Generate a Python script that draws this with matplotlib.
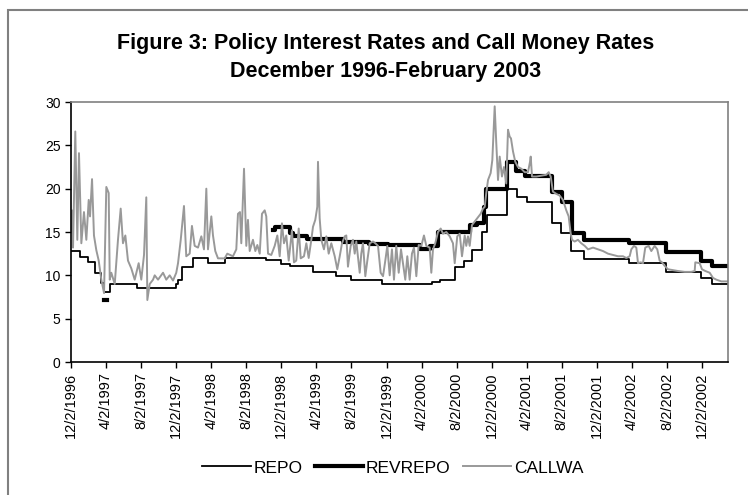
import numpy as np
import matplotlib
matplotlib.use("Agg")
import matplotlib.pyplot as plt
from matplotlib.patches import Rectangle

plt.rcParams['font.family'] = ['Liberation Sans', 'DejaVu Sans']

# x values are months since 2 Dec 1996
tick_months = [0, 4, 8, 12, 16, 20, 24, 28, 32, 36, 40, 44, 48, 52, 56, 60, 64, 68, 72]
tick_labels = ["12/2/1996", "4/2/1997", "8/2/1997", "12/2/1997", "4/2/1998", "8/2/1998",
               "12/2/1998", "4/2/1999", "8/2/1999", "12/2/1999", "4/2/2000", "8/2/2000",
               "12/2/2000", "4/2/2001", "8/2/2001", "12/2/2001", "4/2/2002", "8/2/2002",
               "12/2/2002"]

# REPO: step changes (month, rate)
repo_m = [0.0, 1.03, 1.94, 2.74, 3.42, 3.77, 4.45, 7.53, 11.98, 12.21, 12.66, 13.92,
          15.63, 17.57, 22.25, 23.96, 24.99, 27.61, 30.23, 31.95, 35.48, 41.19, 42.10,
          43.81, 44.84, 45.75, 46.89, 47.46, 49.74, 50.88, 52.03, 54.88, 55.90, 57.04,
          58.53, 63.66, 67.88, 71.88, 73.13, 74.96]
repo_v = [12.8, 12.1, 11.5, 10.3, 9.15, 8.1, 8.96, 8.5, 8.96, 9.46, 11.0, 11.96,
          11.46, 11.96, 11.77, 11.3, 11.08, 10.42, 9.92, 9.46, 9.0, 9.2, 9.46,
          11.0, 11.65, 12.9, 15.0, 17.0, 20.0, 19.0, 18.5, 16.0, 14.85, 12.85,
          11.9, 11.46, 10.35, 9.65, 8.96, 8.96]

# REVREPO: short early stretch, then continuous from late 1998
revrepo_m = [3.77, 4.10, 4.11, 23.05, 23.27, 24.19, 24.99, 25.33, 26.93, 31.03, 34.0,
             36.17, 39.82, 40.96, 41.87, 45.52, 46.32, 47.12, 47.35, 49.74, 50.77,
             51.80, 54.88, 56.02, 57.16, 58.53, 63.66, 67.88, 71.88, 73.13, 74.96]
revrepo_v = [7.2, 7.2, np.nan, 15.2, 15.6, 15.6, 14.85, 14.5, 14.2, 13.9, 13.65,
             13.45, 13.0, 13.4, 14.95, 15.8, 16.0, 17.9, 20.0, 23.1, 22.0,
             21.5, 19.6, 18.5, 14.9, 14.1, 13.7, 12.7, 11.7, 11.1, 11.1]

# CALLWA: weighted average call money rate
call_m = [0.0, 0.11, 0.23, 0.49, 0.72, 0.91, 1.18, 1.48, 1.75, 2.02, 2.17, 2.40, 2.62,
          2.89, 3.16, 3.46, 3.77, 4.03, 4.30, 4.42, 4.60, 4.99, 5.36, 5.67, 5.93, 6.20,
          6.50, 6.88, 7.27, 7.72, 8.02, 8.33, 8.59, 8.71, 8.98, 9.36, 9.55, 9.93, 10.50,
          10.87, 11.26, 11.64, 12.01, 12.21, 12.52, 12.89, 13.15, 13.54, 13.80, 14.11,
          14.49, 14.87, 15.17, 15.44, 15.63, 16.01, 16.20, 16.46, 16.77, 17.54, 17.83,
          18.48, 18.86, 19.05, 19.28, 19.43, 19.74, 20.00, 20.19, 20.39, 20.76, 21.03,
          21.26, 21.53, 21.79, 22.10, 22.28, 22.48, 22.85, 23.24, 23.54, 23.81, 24.07,
          24.30, 24.56, 24.84, 25.21, 25.44, 25.70, 25.98, 26.21, 26.58, 26.85, 27.12,
          27.42, 27.61, 27.87, 28.10, 28.18, 28.37, 28.56, 28.86, 29.13, 29.40, 29.70,
          30.09, 30.38, 30.66, 30.92, 31.23, 31.41, 31.60, 31.91, 32.17, 32.37, 32.55,
          32.94, 33.12, 33.31, 33.58, 33.81, 34.08, 34.46, 34.72, 35.03, 35.33, 35.60,
          35.86, 36.09, 36.36, 36.62, 36.85, 37.11, 37.39, 37.65, 38.14, 38.37, 38.64,
          38.90, 39.13, 39.40, 39.67, 39.97, 40.27, 40.54, 40.92, 41.11, 41.30, 41.56,
          41.87, 42.18, 42.44, 42.82, 43.21, 43.58, 43.78, 44.07, 44.35, 44.61, 44.92,
          45.10, 45.29, 45.49, 45.75, 46.13, 46.43, 46.74, 47.01, 47.20, 47.38, 47.58,
          47.88, 48.07, 48.34, 48.52, 48.72, 48.91, 49.17, 49.40, 49.66, 49.86, 50.05,
          50.20, 50.43, 50.69, 51.00, 51.38, 51.76, 52.14, 52.37, 52.45, 52.60, 53.09,
          53.66, 54.23, 54.50, 54.73, 54.99, 55.37, 55.76, 56.13, 56.51, 56.78, 57.01,
          57.16, 57.47, 57.84, 58.22, 58.61, 58.99, 59.56, 60.13, 60.70, 61.27, 61.84,
          62.41, 62.98, 63.36, 63.74, 63.93, 64.23, 64.50, 64.69, 65.00, 65.26, 65.52,
          65.91, 66.21, 66.59, 66.89, 67.16, 67.43, 67.73, 68.11, 68.68, 69.25, 70.02,
          70.77, 71.16, 71.23, 71.73, 71.99, 72.37, 72.87, 73.25, 73.63, 74.20, 74.96]
call_v = [15.0, 17.5, 13.2, 26.6, 14.1, 24.1, 13.7, 17.3, 14.1, 18.7, 16.8, 21.1, 14.6,
          12.9, 11.7, 9.5, 7.95, 20.2, 19.5, 9.5, 10.3, 9.0, 14.1, 17.7, 13.7, 14.6,
          11.7, 10.8, 9.5, 11.4, 9.5, 12.35, 19.0, 7.15, 9.0, 9.5, 10.0, 9.5, 10.3,
          9.5, 10.0, 9.4, 10.3, 11.4, 14.1, 18.0, 12.2, 12.5, 15.7, 13.4,
          13.2, 14.5, 13.0, 20.0, 13.0, 16.8, 14.6, 12.8, 11.96, 11.96, 12.5,
          12.2, 13.0, 17.1, 17.3, 13.7, 22.3, 13.4, 16.4, 12.8, 14.1, 12.8,
          13.5, 12.5, 17.1, 17.5, 16.8, 12.5, 12.35, 13.4, 14.6, 12.2, 16.0,
          13.7, 14.6, 11.7, 15.2, 11.5, 11.7, 15.4, 11.96, 12.2, 13.7, 12.0,
          14.1, 15.6, 16.4, 17.9, 23.1, 16.6, 14.1, 13.0, 14.5, 12.5, 13.7,
          12.2, 10.7, 12.2, 13.7, 14.5, 14.6, 11.0, 13.4, 14.1, 12.5, 13.9,
          10.3, 12.5, 13.7, 9.9, 11.7, 13.7, 13.9, 13.7, 13.4, 10.3, 9.9,
          11.7, 13.4, 10.0, 13.0, 9.5, 13.4, 10.3, 13.0, 9.5, 12.2, 9.5,
          12.5, 13.2, 9.9, 13.5, 13.4, 14.6, 13.4, 13.2, 10.3, 13.0, 13.7,
          15.0, 15.4, 14.8, 15.0, 14.5, 13.7, 11.4, 14.5, 14.8, 12.2, 14.6,
          13.4, 14.5, 13.4, 15.8, 16.3, 16.7, 17.1, 17.7, 17.9, 19.5, 21.0,
          21.8, 23.3, 29.5, 25.3, 21.0, 23.7, 21.4, 22.5, 20.6, 26.8, 26.0,
          25.8, 24.3, 23.1, 22.5, 22.3, 21.9, 21.9, 23.1, 23.7, 21.4, 21.4,
          21.5, 21.6, 21.9, 21.4, 19.65, 19.4, 19.2, 18.7, 17.5, 16.8, 14.85,
          14.1, 13.9, 14.1, 13.7, 13.4, 13.0, 13.2, 13.0, 12.8, 12.5, 12.35,
          12.2, 12.2, 12.0, 12.2, 13.0, 13.4, 13.2, 11.4, 11.5, 11.4, 13.2,
          13.4, 12.8, 13.4, 13.0, 11.7, 11.5, 11.1, 10.7, 10.6, 10.5, 10.4,
          10.4, 10.5, 11.5, 11.4, 10.7, 10.5, 10.3, 9.7, 9.5, 9.3, 9.3]

fig = plt.figure(figsize=(7.48, 4.95), dpi=100)
ax = fig.add_axes([71 / 748, 1 - 362 / 495, (728 - 71) / 748, (362 - 102) / 495])

ax.plot(repo_m, repo_v, drawstyle="steps-post", color="black", lw=1.3, label="REPO")
ax.plot(revrepo_m, revrepo_v, drawstyle="steps-post", color="black", lw=3.0, label="REVREPO")
ax.plot(call_m, call_v, color="#999999", lw=1.4, label="CALLWA")

ax.set_xlim(0, 74.96)
ax.set_ylim(0, 30)
ax.set_yticks(range(0, 31, 5))
ax.set_xticks(tick_months)
ax.set_xticklabels(tick_labels, rotation=90, fontsize=10.5)
ax.tick_params(axis="y", labelsize=10, direction="out", length=4, width=1)
ax.tick_params(axis="x", direction="out", length=4, width=1)

for side in ("top", "right"):
    ax.spines[side].set_color("#808080")
    ax.spines[side].set_linewidth(1.2)
for side in ("left", "bottom"):
    ax.spines[side].set_color("black")
    ax.spines[side].set_linewidth(1.2)

fig.text(0.515, 1 - 44 / 495, "Figure 3: Policy Interest Rates and Call Money Rates",
         ha="center", va="center", fontsize=15.5, fontweight="bold")
fig.text(0.515, 1 - 72 / 495, "December 1996-February 2003",
         ha="center", va="center", fontsize=15.5, fontweight="bold")

fig.legend(loc="center", bbox_to_anchor=(393 / 748, 1 - 468 / 495), ncol=3,
           frameon=False, fontsize=12.5, handlelength=2.8, handletextpad=0.15,
           columnspacing=0.7)

# outer chart frame
fig.add_artist(Rectangle((8 / 748, -0.1), 2.0, 1.1 - 10 / 495, transform=fig.transFigure,
                         fill=False, edgecolor="#808080", lw=1.5))

fig.savefig("out.png", dpi=100)
